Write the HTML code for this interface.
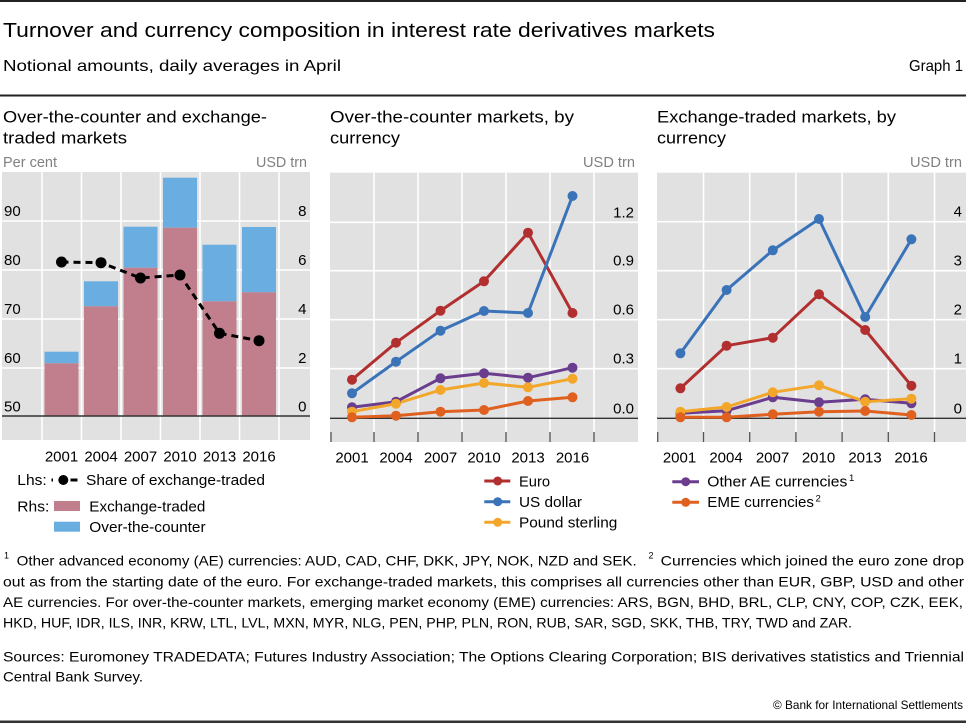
<!DOCTYPE html>
<html><head><meta charset="utf-8"><style>
html,body{margin:0;padding:0;background:#fff;}
svg{display:block;}
text{font-family:"Liberation Sans",Arial,sans-serif;}
</style></head><body>
<svg width="966" height="723" viewBox="0 0 966 723" xmlns="http://www.w3.org/2000/svg">
<!-- header -->
<rect x="0" y="0" width="966" height="2" fill="#222"/>
<text x="3" y="37" font-size="20" textLength="712" lengthAdjust="spacingAndGlyphs" fill="#000">Turnover and currency composition in interest rate derivatives markets</text>
<text x="3" y="71" font-size="16" textLength="338" lengthAdjust="spacingAndGlyphs" fill="#000">Notional amounts, daily averages in April</text>
<text x="909" y="71" font-size="16" textLength="54" lengthAdjust="spacingAndGlyphs" fill="#000">Graph 1</text>
<rect x="0" y="94.5" width="966" height="2" fill="#222"/>

<!-- panel titles -->
<g font-size="17" fill="#000">
<text x="3" y="122.7" textLength="264" lengthAdjust="spacingAndGlyphs">Over-the-counter and exchange-</text>
<text x="3" y="143.3" textLength="124" lengthAdjust="spacingAndGlyphs">traded markets</text>
<text x="330" y="122.7" textLength="244" lengthAdjust="spacingAndGlyphs">Over-the-counter markets, by</text>
<text x="330" y="143.3" textLength="70" lengthAdjust="spacingAndGlyphs">currency</text>
<text x="657" y="122.7" textLength="239" lengthAdjust="spacingAndGlyphs">Exchange-traded markets, by</text>
<text x="657" y="143.3" textLength="69" lengthAdjust="spacingAndGlyphs">currency</text>
</g>
<g font-size="15" fill="#808080">
<text x="3" y="167" textLength="54" lengthAdjust="spacingAndGlyphs">Per cent</text>
<text x="256" y="167" textLength="51" lengthAdjust="spacingAndGlyphs">USD trn</text>
<text x="583" y="167" textLength="52" lengthAdjust="spacingAndGlyphs">USD trn</text>
<text x="910" y="167" textLength="52" lengthAdjust="spacingAndGlyphs">USD trn</text>
</g>

<!-- ================= PANEL 1 ================= -->
<rect x="2" y="172" width="308" height="268" fill="#e1e1e1"/>
<g stroke="#fff" stroke-width="1.6">
<line x1="42" y1="172" x2="42" y2="440"/>
<line x1="81.5" y1="172" x2="81.5" y2="440"/>
<line x1="121" y1="172" x2="121" y2="440"/>
<line x1="160.5" y1="172" x2="160.5" y2="440"/>
<line x1="200" y1="172" x2="200" y2="440"/>
<line x1="239.5" y1="172" x2="239.5" y2="440"/>
<line x1="279" y1="172" x2="279" y2="440"/>
<line x1="2" y1="221" x2="310" y2="221"/>
<line x1="2" y1="270" x2="310" y2="270"/>
<line x1="2" y1="319" x2="310" y2="319"/>
<line x1="2" y1="368" x2="310" y2="368"/>
</g>
<!-- bars: centers 61.5 + 39.5 i, width 34 -->
<g>
<rect x="44.5" y="351.7" width="34" height="11.6" fill="#6aade0"/>
<rect x="44.5" y="363.3" width="34" height="52.7" fill="#c17f8e"/>
<rect x="84" y="281.3" width="34" height="25" fill="#6aade0"/>
<rect x="84" y="306.3" width="34" height="109.7" fill="#c17f8e"/>
<rect x="123.5" y="226.7" width="34" height="41" fill="#6aade0"/>
<rect x="123.5" y="267.7" width="34" height="148.3" fill="#c17f8e"/>
<rect x="163" y="177.7" width="34" height="50" fill="#6aade0"/>
<rect x="163" y="227.7" width="34" height="188.3" fill="#c17f8e"/>
<rect x="202.5" y="244.7" width="34" height="56.6" fill="#6aade0"/>
<rect x="202.5" y="301.3" width="34" height="114.7" fill="#c17f8e"/>
<rect x="242" y="227" width="34" height="65.3" fill="#6aade0"/>
<rect x="242" y="292.3" width="34" height="123.7" fill="#c17f8e"/>
</g>
<line x1="2" y1="416" x2="310" y2="416" stroke="#333" stroke-width="1.4"/>
<polyline points="61.5,262 101,262.7 140.5,278 180,275 219.5,333.3 259,340.7" fill="none" stroke="#000" stroke-width="3" stroke-dasharray="7,5"/>
<g fill="#000">
<circle cx="61.5" cy="262" r="5.5"/><circle cx="101" cy="262.7" r="5.5"/><circle cx="140.5" cy="278" r="5.5"/>
<circle cx="180" cy="275" r="5.5"/><circle cx="219.5" cy="333.3" r="5.5"/><circle cx="259" cy="340.7" r="5.5"/>
</g>
<g font-size="15" fill="#000">
<text x="4" y="216">90</text><text x="4" y="265">80</text><text x="4" y="314">70</text><text x="4" y="363">60</text><text x="4" y="411.5">50</text>
</g>
<g font-size="15" fill="#000" text-anchor="end">
<text x="306.5" y="216">8</text><text x="306.5" y="265">6</text><text x="306.5" y="314">4</text><text x="306.5" y="363">2</text><text x="306.5" y="411.5">0</text>
</g>
<g font-size="15" fill="#000" text-anchor="middle">
<text x="61.5" y="461.5">2001</text><text x="101" y="461.5">2004</text><text x="140.5" y="461.5">2007</text>
<text x="180" y="461.5">2010</text><text x="219.5" y="461.5">2013</text><text x="259" y="461.5">2016</text>
</g>
<!-- panel 1 legend -->
<g font-size="15" fill="#000">
<text x="17.3" y="485" textLength="29.4" lengthAdjust="spacingAndGlyphs">Lhs:</text>
<text x="86" y="485" textLength="179" lengthAdjust="spacingAndGlyphs">Share of exchange-traded</text>
<text x="17.3" y="511.7" textLength="32" lengthAdjust="spacingAndGlyphs">Rhs:</text>
<text x="89.3" y="511.7" textLength="116" lengthAdjust="spacingAndGlyphs">Exchange-traded</text>
<text x="89.3" y="532" textLength="116.3" lengthAdjust="spacingAndGlyphs">Over-the-counter</text>
</g>
<line x1="51.5" y1="480" x2="53" y2="480" stroke="#000" stroke-width="3"/>
<line x1="59" y1="480" x2="77.5" y2="480" stroke="#000" stroke-width="3"/>
<rect x="66.5" y="478.5" width="4" height="3" fill="#fff"/>
<circle cx="63.3" cy="480" r="5" fill="#000"/>
<rect x="54" y="501" width="26" height="10" fill="#c17f8e"/>
<rect x="54" y="521.7" width="26" height="10" fill="#6aade0"/>

<!-- ================= PANEL 2 ================= -->
<rect x="330" y="172.7" width="308" height="269.3" fill="#e1e1e1"/>
<g stroke="#fff" stroke-width="1.6">
<line x1="374" y1="172.7" x2="374" y2="432"/>
<line x1="418" y1="172.7" x2="418" y2="432"/>
<line x1="462" y1="172.7" x2="462" y2="432"/>
<line x1="506" y1="172.7" x2="506" y2="432"/>
<line x1="550" y1="172.7" x2="550" y2="432"/>
<line x1="594" y1="172.7" x2="594" y2="432"/>
<line x1="330" y1="222.3" x2="638" y2="222.3"/>
<line x1="330" y1="270.7" x2="638" y2="270.7"/>
<line x1="330" y1="319.7" x2="638" y2="319.7"/>
<line x1="330" y1="368.7" x2="638" y2="368.7"/>
</g>
<g stroke="#555" stroke-width="1.3">
<line x1="331" y1="432" x2="331" y2="442"/>
<line x1="374" y1="432" x2="374" y2="442"/>
<line x1="418" y1="432" x2="418" y2="442"/>
<line x1="462" y1="432" x2="462" y2="442"/>
<line x1="506" y1="432" x2="506" y2="442"/>
<line x1="550" y1="432" x2="550" y2="442"/>
<line x1="594" y1="432" x2="594" y2="442"/>
</g>
<line x1="330" y1="418.3" x2="638" y2="418.3" stroke="#333" stroke-width="1.4"/>
<g fill="none" stroke-width="3" stroke-linejoin="round">
<polyline stroke="#b22f2f" points="352,379.7 396,342.7 440.5,310.7 484,281.3 528,232.7 572.5,313"/>
<polyline stroke="#3b73b9" points="352,393.3 396,361.7 440.5,330.7 484,311 528,313 572.5,196"/>
<polyline stroke="#6b3d8f" points="352,407.3 396,401.7 440.5,378.3 484,373.3 528,377.7 572.5,367.7"/>
<polyline stroke="#f2a72a" points="352,411.7 396,403.7 440.5,390 484,383 528,387.3 572.5,378.7"/>
<polyline stroke="#e0601f" points="352,417.3 396,415.7 440.5,411.7 484,410 528,401 572.5,397.3"/>
</g>
<g fill="#b22f2f"><circle cx="352" cy="379.7" r="5"/><circle cx="396" cy="342.7" r="5"/><circle cx="440.5" cy="310.7" r="5"/><circle cx="484" cy="281.3" r="5"/><circle cx="528" cy="232.7" r="5"/><circle cx="572.5" cy="313" r="5"/></g>
<g fill="#3b73b9"><circle cx="352" cy="393.3" r="5"/><circle cx="396" cy="361.7" r="5"/><circle cx="440.5" cy="330.7" r="5"/><circle cx="484" cy="311" r="5"/><circle cx="528" cy="313" r="5"/><circle cx="572.5" cy="196" r="5"/></g>
<g fill="#6b3d8f"><circle cx="352" cy="407.3" r="5"/><circle cx="396" cy="401.7" r="5"/><circle cx="440.5" cy="378.3" r="5"/><circle cx="484" cy="373.3" r="5"/><circle cx="528" cy="377.7" r="5"/><circle cx="572.5" cy="367.7" r="5"/></g>
<g fill="#f2a72a"><circle cx="352" cy="411.7" r="5"/><circle cx="396" cy="403.7" r="5"/><circle cx="440.5" cy="390" r="5"/><circle cx="484" cy="383" r="5"/><circle cx="528" cy="387.3" r="5"/><circle cx="572.5" cy="378.7" r="5"/></g>
<g fill="#e0601f"><circle cx="352" cy="417.3" r="5"/><circle cx="396" cy="415.7" r="5"/><circle cx="440.5" cy="411.7" r="5"/><circle cx="484" cy="410" r="5"/><circle cx="528" cy="401" r="5"/><circle cx="572.5" cy="397.3" r="5"/></g>
<g font-size="15" fill="#000" text-anchor="end">
<text x="634" y="217.3">1.2</text><text x="634" y="265.7">0.9</text><text x="634" y="314.7">0.6</text><text x="634" y="363.7">0.3</text><text x="634" y="413.3">0.0</text>
</g>
<g font-size="15" fill="#000" text-anchor="middle">
<text x="352" y="462.5">2001</text><text x="396" y="462.5">2004</text><text x="440.5" y="462.5">2007</text>
<text x="484" y="462.5">2010</text><text x="528" y="462.5">2013</text><text x="572.5" y="462.5">2016</text>
</g>
<!-- panel 2 legend -->
<g stroke-width="3">
<line x1="484.3" y1="481" x2="510.3" y2="481" stroke="#b22f2f"/>
<line x1="484.3" y1="501.7" x2="510.3" y2="501.7" stroke="#3b73b9"/>
<line x1="484.3" y1="522.3" x2="510.3" y2="522.3" stroke="#f2a72a"/>
</g>
<circle cx="497.7" cy="481" r="4.5" fill="#b22f2f"/>
<circle cx="497.7" cy="501.7" r="4.5" fill="#3b73b9"/>
<circle cx="497.7" cy="522.3" r="4.5" fill="#f2a72a"/>
<g font-size="15" fill="#000">
<text x="519" y="486.3" textLength="31" lengthAdjust="spacingAndGlyphs">Euro</text>
<text x="519" y="507" textLength="63" lengthAdjust="spacingAndGlyphs">US dollar</text>
<text x="519" y="527.5" textLength="98.3" lengthAdjust="spacingAndGlyphs">Pound sterling</text>
</g>

<!-- ================= PANEL 3 ================= -->
<rect x="657" y="172.7" width="309" height="269.3" fill="#e1e1e1"/>
<g stroke="#fff" stroke-width="1.6">
<line x1="703.5" y1="172.7" x2="703.5" y2="432"/>
<line x1="749.7" y1="172.7" x2="749.7" y2="432"/>
<line x1="795.9" y1="172.7" x2="795.9" y2="432"/>
<line x1="842.1" y1="172.7" x2="842.1" y2="432"/>
<line x1="888.3" y1="172.7" x2="888.3" y2="432"/>
<line x1="934.5" y1="172.7" x2="934.5" y2="432"/>
<line x1="657" y1="221.7" x2="966" y2="221.7"/>
<line x1="657" y1="270.7" x2="966" y2="270.7"/>
<line x1="657" y1="319.7" x2="966" y2="319.7"/>
<line x1="657" y1="368.7" x2="966" y2="368.7"/>
</g>
<g stroke="#555" stroke-width="1.3">
<line x1="657.7" y1="432" x2="657.7" y2="442"/>
<line x1="703.5" y1="432" x2="703.5" y2="442"/>
<line x1="749.7" y1="432" x2="749.7" y2="442"/>
<line x1="795.9" y1="432" x2="795.9" y2="442"/>
<line x1="842.1" y1="432" x2="842.1" y2="442"/>
<line x1="888.3" y1="432" x2="888.3" y2="442"/>
<line x1="934.5" y1="432" x2="934.5" y2="442"/>
</g>
<line x1="657" y1="418.3" x2="966" y2="418.3" stroke="#333" stroke-width="1.4"/>
<g fill="none" stroke-width="3" stroke-linejoin="round">
<polyline stroke="#b22f2f" points="680.4,388.3 726.6,345.7 772.8,337.7 819,294.3 865.2,330 911.4,385.7"/>
<polyline stroke="#3b73b9" points="680.4,353.3 726.6,290 772.8,250.3 819,219 865.2,317 911.4,239.3"/>
<polyline stroke="#6b3d8f" points="680.4,413.3 726.6,410.7 772.8,397.3 819,402.3 865.2,399.3 911.4,403.3"/>
<polyline stroke="#f2a72a" points="680.4,411.7 726.6,407 772.8,392.3 819,385.3 865.2,401.7 911.4,398.7"/>
<polyline stroke="#e0601f" points="680.4,417.3 726.6,417.3 772.8,414.3 819,411.7 865.2,411 911.4,415"/>
</g>
<g fill="#b22f2f"><circle cx="680.4" cy="388.3" r="5"/><circle cx="726.6" cy="345.7" r="5"/><circle cx="772.8" cy="337.7" r="5"/><circle cx="819" cy="294.3" r="5"/><circle cx="865.2" cy="330" r="5"/><circle cx="911.4" cy="385.7" r="5"/></g>
<g fill="#3b73b9"><circle cx="680.4" cy="353.3" r="5"/><circle cx="726.6" cy="290" r="5"/><circle cx="772.8" cy="250.3" r="5"/><circle cx="819" cy="219" r="5"/><circle cx="865.2" cy="317" r="5"/><circle cx="911.4" cy="239.3" r="5"/></g>
<g fill="#6b3d8f"><circle cx="680.4" cy="413.3" r="5"/><circle cx="726.6" cy="410.7" r="5"/><circle cx="772.8" cy="397.3" r="5"/><circle cx="819" cy="402.3" r="5"/><circle cx="865.2" cy="399.3" r="5"/><circle cx="911.4" cy="403.3" r="5"/></g>
<g fill="#f2a72a"><circle cx="680.4" cy="411.7" r="5"/><circle cx="726.6" cy="407" r="5"/><circle cx="772.8" cy="392.3" r="5"/><circle cx="819" cy="385.3" r="5"/><circle cx="865.2" cy="401.7" r="5"/><circle cx="911.4" cy="398.7" r="5"/></g>
<g fill="#e0601f"><circle cx="680.4" cy="417.3" r="5"/><circle cx="726.6" cy="417.3" r="5"/><circle cx="772.8" cy="414.3" r="5"/><circle cx="819" cy="411.7" r="5"/><circle cx="865.2" cy="411" r="5"/><circle cx="911.4" cy="415" r="5"/></g>
<g font-size="15" fill="#000" text-anchor="end">
<text x="962" y="216.7">4</text><text x="962" y="265.7">3</text><text x="962" y="314.7">2</text><text x="962" y="363.7">1</text><text x="962" y="413.3">0</text>
</g>
<g font-size="15" fill="#000" text-anchor="middle">
<text x="679.5" y="462.5">2001</text><text x="726" y="462.5">2004</text><text x="772.5" y="462.5">2007</text>
<text x="818.5" y="462.5">2010</text><text x="865" y="462.5">2013</text><text x="911" y="462.5">2016</text>
</g>
<!-- panel 3 legend -->
<line x1="672.3" y1="481.7" x2="699" y2="481.7" stroke="#6b3d8f" stroke-width="3"/>
<line x1="672.3" y1="502.3" x2="699" y2="502.3" stroke="#e0601f" stroke-width="3"/>
<circle cx="685.7" cy="481.7" r="4.5" fill="#6b3d8f"/>
<circle cx="685.7" cy="502.3" r="4.5" fill="#e0601f"/>
<g font-size="15" fill="#000">
<text x="707.3" y="486.3" textLength="140" lengthAdjust="spacingAndGlyphs">Other AE currencies</text>
<text x="849" y="481" font-size="9.5">1</text>
<text x="707.3" y="507" textLength="106.7" lengthAdjust="spacingAndGlyphs">EME currencies</text>
<text x="815.5" y="501.5" font-size="9.5">2</text>
</g>

<!-- footnotes -->
<g font-size="14" fill="#000">
<text x="4" y="558.5" font-size="9">1</text>
<text x="16.7" y="565.7" textLength="620" lengthAdjust="spacingAndGlyphs">Other advanced economy (AE) currencies: AUD, CAD, CHF, DKK, JPY, NOK, NZD and SEK.</text>
<text x="648.5" y="558.5" font-size="9">2</text>
<text x="660.7" y="565.7" textLength="303.3" lengthAdjust="spacingAndGlyphs">Currencies which joined the euro zone drop</text>
<text x="3" y="586.3" textLength="961" lengthAdjust="spacingAndGlyphs">out as from the starting date of the euro. For exchange-traded markets, this comprises all currencies other than EUR, GBP, USD and other</text>
<text x="3" y="607" textLength="960" lengthAdjust="spacingAndGlyphs">AE currencies. For over-the-counter markets, emerging market economy (EME) currencies: ARS, BGN, BHD, BRL, CLP, CNY, COP, CZK, EEK,</text>
<text x="3" y="627.3" textLength="849" lengthAdjust="spacingAndGlyphs">HKD, HUF, IDR, ILS, INR, KRW, LTL, LVL, MXN, MYR, NLG, PEN, PHP, PLN, RON, RUB, SAR, SGD, SKK, THB, TRY, TWD and ZAR.</text>
<text x="3" y="661.7" textLength="961" lengthAdjust="spacingAndGlyphs">Sources: Euromoney TRADEDATA; Futures Industry Association; The Options Clearing Corporation; BIS derivatives statistics and Triennial</text>
<text x="3" y="681.7" textLength="140" lengthAdjust="spacingAndGlyphs">Central Bank Survey.</text>
</g>
<text x="773" y="709" font-size="12" textLength="190" lengthAdjust="spacingAndGlyphs" fill="#000">© Bank for International Settlements</text>
<rect x="0" y="720.5" width="966" height="2.5" fill="#333"/>
</svg>
</body></html>
